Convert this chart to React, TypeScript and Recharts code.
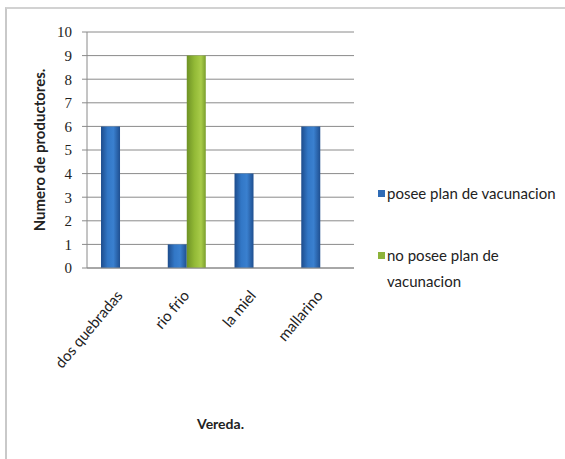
import React from 'react';
import { BarChart, Bar, XAxis, YAxis, CartesianGrid, Legend } from 'recharts';

const veredas = ['dos quebradas', 'rio frio', 'la miel', 'mallarino'];
const poseePlan = [6, 1, 4, 6];
const noPoseePlan = [0, 9, 0, 0];
const yTicks = [0, 1, 2, 3, 4, 5, 6, 7, 8, 9, 10];

const data = veredas.map((v, i) => ({
  vereda: v,
  posee: poseePlan[i],
  noPosee: noPoseePlan[i] || null,
}));

const legendItems = [
  { label: 'posee plan de vacunacion', color: '#2f6bb5' },
  { label: 'no posee plan de vacunacion', color: '#8db33a' },
];

const YTitle = (props: any) => {
  const vb = props.viewBox || {};
  const cx = vb.x + 31;
  const cy = vb.y + vb.height / 2;
  return (
    <text
      x={cx}
      y={cy}
      transform={`rotate(-90, ${cx}, ${cy})`}
      textAnchor="middle"
      dominantBaseline="middle"
      fontFamily="Lato, sans-serif"
      fontWeight="bold"
      fontSize={15}
      fill="#222"
    >
      Numero de productores.
    </text>
  );
};

const XTick = (props: any) => {
  const { x, y, payload } = props;
  const ax = x + 3;
  const ay = y + 20;
  return (
    <text
      x={ax}
      y={ay}
      transform={`rotate(-50, ${ax}, ${ay})`}
      textAnchor="end"
      fontFamily="Lato, sans-serif"
      fontSize={15}
      fill="#222"
    >
      {payload.value}
    </text>
  );
};

const LegendBox = () => (
  <div style={{ fontFamily: 'Lato, sans-serif', fontSize: 15, color: '#222', lineHeight: '26px' }}>
    {legendItems.map((it, i) => (
      <div key={i} style={{ display: 'flex', alignItems: 'flex-start', marginBottom: i === 0 ? 36 : 0, width: 185 }}>
        <span
          style={{
            display: 'inline-block',
            width: 7,
            height: 7,
            background: it.color,
            marginTop: 10,
            marginRight: 2,
            flexShrink: 0,
          }}
        />
        <span style={{ width: i === 1 ? 130 : 180 }}>{it.label}</span>
      </div>
    ))}
  </div>
);

export default function App() {
  return (
    <div style={{ position: 'fixed', left: 0, top: 0, width: 565, height: 459, background: '#fff' }}>
      <div
        style={{
          position: 'absolute',
          left: 5,
          top: 7,
          right: 0,
          bottom: 0,
          borderTop: '2px solid #d2d2d2',
          borderLeft: '2px solid #c9c9c9',
        }}
      />
      <div style={{ position: 'absolute', left: 0, top: 0 }}>
        <BarChart
          width={565}
          height={459}
          data={data}
          margin={{ top: 32, right: 211, left: 10, bottom: 20 }}
          barCategoryGap="21%"
          barGap={0}
        >
          <defs>
            <linearGradient id="gBlue" x1="0" y1="0" x2="1" y2="0">
              <stop offset="0%" stopColor="#1d4c8c" />
              <stop offset="35%" stopColor="#3277c6" />
              <stop offset="65%" stopColor="#3a80cf" />
              <stop offset="100%" stopColor="#1f4f90" />
            </linearGradient>
            <linearGradient id="gGreen" x1="0" y1="0" x2="1" y2="0">
              <stop offset="0%" stopColor="#6e9225" />
              <stop offset="40%" stopColor="#92b936" />
              <stop offset="75%" stopColor="#a9cc49" />
              <stop offset="100%" stopColor="#7a9e2c" />
            </linearGradient>
          </defs>
          <CartesianGrid vertical={false} stroke="#8a8a8a" strokeWidth={1} />
          <XAxis
            dataKey="vereda"
            height={171}
            interval={0}
            tick={<XTick />}
            axisLine={{ stroke: '#8a8a8a' }}
            tickLine={false}
            label={{
              value: 'Vereda.',
              position: 'insideBottom',
              offset: 10,
              style: { fontFamily: 'Lato, sans-serif', fontWeight: 'bold', fontSize: 14, fill: '#222' },
            }}
          />
          <YAxis
            width={77}
            domain={[0, 10]}
            ticks={yTicks}
            interval={0}
            axisLine={{ stroke: '#8a8a8a' }}
            tickLine={{ stroke: '#8a8a8a' }}
            tickSize={5}
            tickMargin={10}
            tick={{ fontFamily: '"Liberation Serif", serif', fontSize: 15, fill: '#222' }}
            label={<YTitle />}
          />
          <Legend
            layout="vertical"
            align="center"
            verticalAlign="middle"
            content={<LegendBox />}
            wrapperStyle={{ left: 378, top: 180, width: 187 }}
          />
          <Bar dataKey="posee" name="posee plan de vacunacion" fill="url(#gBlue)" isAnimationActive={false} />
          <Bar dataKey="noPosee" name="no posee plan de vacunacion" fill="url(#gGreen)" isAnimationActive={false} />
        </BarChart>
      </div>
    </div>
  );
}
